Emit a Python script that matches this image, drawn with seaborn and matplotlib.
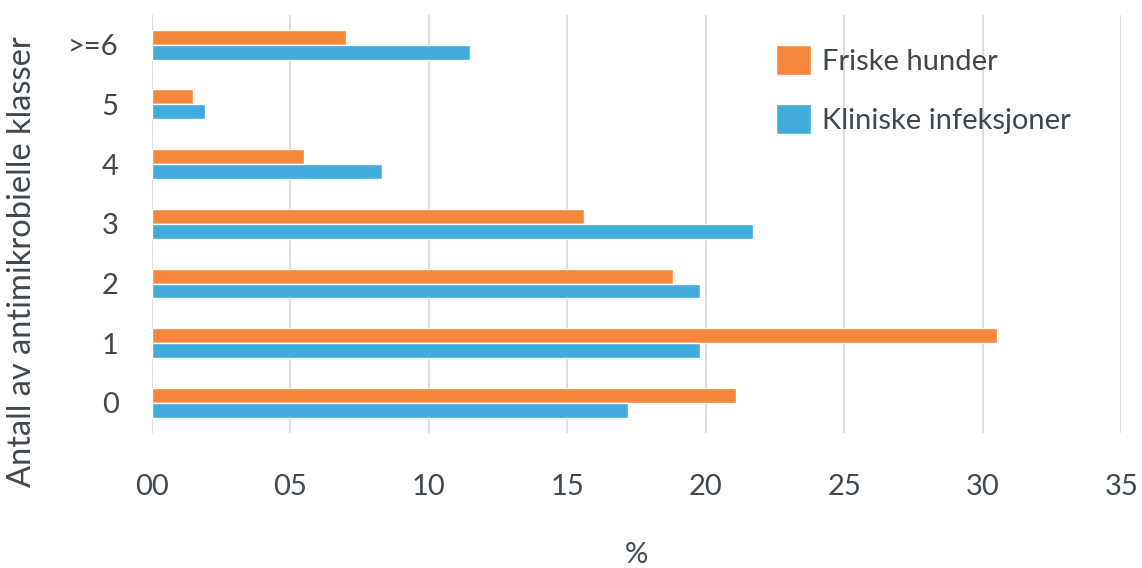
import matplotlib
matplotlib.use("Agg")
import matplotlib.pyplot as plt
import seaborn as sns
import pandas as pd

# Number of antimicrobial classes an isolate is resistant to
categories = [">=6", "5", "4", "3", "2", "1", "0"]
friske_hunder = [7.0, 1.5, 5.5, 15.6, 18.8, 30.5, 21.1]
kliniske_infeksjoner = [11.5, 1.9, 8.3, 21.7, 19.8, 19.8, 17.2]
series_names = ["Friske hunder", "Kliniske infeksjoner"]
x_ticks = [0, 5, 10, 15, 20, 25, 30, 35]
x_ticklabels = ["00", "05", "10", "15", "20", "25", "30", "35"]

df = pd.DataFrame({
    "klasse": categories * 2,
    "prosent": friske_hunder + kliniske_infeksjoner,
    "gruppe": [series_names[0]] * len(categories) + [series_names[1]] * len(categories),
})

sns.set_theme(style="white")
plt.rcParams["font.family"] = ["Lato", "DejaVu Sans"]

text_color = "#3F484F"
palette = {series_names[0]: "#F4873B", series_names[1]: "#41ABDB"}

fig = plt.figure(figsize=(11.42, 5.68), dpi=100)
ax = fig.add_axes([0.133, 0.238, 0.849, 0.736])

sns.barplot(data=df, y="klasse", x="prosent", hue="gruppe", order=categories,
            hue_order=series_names, palette=palette, orient="h", width=0.5,
            gap=0, saturation=1, ax=ax)

ax.set_xlim(0, 35)
ax.set_ylim(len(categories) - 0.5, -0.5)
ax.set_xticks(x_ticks)
ax.set_xticklabels(x_ticklabels)
ax.xaxis.grid(True, color="#D9DEE3", linewidth=1.5)
ax.set_axisbelow(True)
for s in ax.spines.values():
    s.set_visible(False)
ax.tick_params(axis="both", length=0, labelsize=21, colors=text_color)
ax.tick_params(axis="x", pad=30)
ax.tick_params(axis="y", pad=24)

ax.set_xlabel("%", fontsize=21, color=text_color, labelpad=30)
ax.set_ylabel("Antall av antimikrobielle klasser", fontsize=23.5, color=text_color)
ax.yaxis.set_label_coords(-0.118, 0.41)

leg = ax.legend(loc="upper right", bbox_to_anchor=(0.975, 0.99), frameon=False,
                fontsize=21, handlelength=1.2, handleheight=1.2, labelspacing=1.0,
                handletextpad=0.4, labelcolor=text_color)

fig.savefig("out.png", dpi=100)
